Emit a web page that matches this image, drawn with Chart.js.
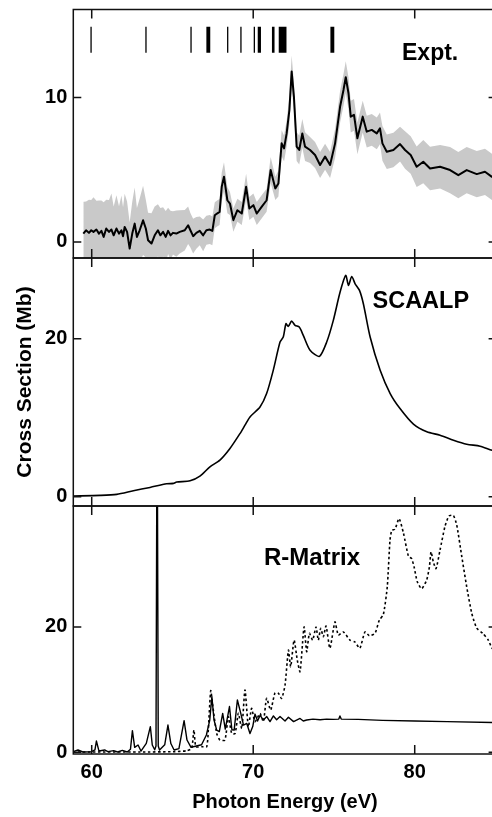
<!DOCTYPE html>
<html>
<head>
<meta charset="utf-8">
<script src="https://cdn.jsdelivr.net/npm/chart.js@4.4.0/dist/chart.umd.min.js"></script>
<style>
html, body { margin: 0; padding: 0; background: #fff; overflow: hidden; }
#wrap { position: relative; width: 492px; height: 817px; overflow: hidden; }
canvas { position: absolute; left: 0; }
</style>
</head>
<body>
<div id="wrap">
  <canvas id="p1" width="500" height="262" style="top:0px"></canvas>
  <canvas id="p2" width="500" height="256" style="top:254px"></canvas>
  <canvas id="p3" width="500" height="315" style="top:502px"></canvas>
</div>
<script>
// x axis (photon energy, eV)
const xMin = 58.86, xMax = 85.07;
const xTicks = [60, 70, 80];

// Expt. panel
const exptE = [59.48,59.52,59.65,59.83,59.97,60.11,60.29,60.45,60.60,60.74,60.90,61.07,61.22,61.36,61.53,61.69,61.84,61.94,
  62.04,62.19,62.35,62.51,62.66,62.80,62.97,63.18,63.35,63.49,63.70,63.90,64.10,64.25,64.42,64.58,64.73,64.88,65.03,65.24,
  65.45,65.76,65.97,66.11,66.28,66.48,66.69,66.90,67.10,67.31,67.47,67.62,67.76,67.92,
  68.05,68.19,68.40,68.56,68.77,69.02,69.29,69.56,69.76,70.01,70.22,70.52,70.83,71.08,71.37,71.56,71.76,71.91,72.07,72.24,
  72.38,72.52,
  72.69,72.85,73.04,73.21,73.52,73.83,74.14,74.45,
  74.76,75.07,75.38,75.59,75.73,75.90,76.04,76.24,76.45,
  76.78,77.03,77.34,77.65,77.85,78.00,78.27,78.68,79.09,
  79.40,79.75,80.12,80.53,80.95,81.57,82.19,82.70,83.22,83.84,84.35,84.78,85.1];
const exptV = [0.58,0.58,0.81,0.63,0.81,0.70,0.86,0.58,0.77,0.35,0.93,0.70,0.86,0.46,0.93,0.58,0.81,0.40,
  1.04,0.70,-0.46,0.58,1.27,0.35,0.81,1.50,0.93,0.12,-0.11,0.46,0.81,0.46,0.70,0.35,0.77,0.46,0.63,0.58,
  0.70,0.81,1.16,0.81,0.40,0.63,0.77,0.46,0.81,0.86,0.77,1.85,1.97,2.08,
  3.82,4.52,2.89,2.66,1.51,2.20,1.97,3.82,2.32,2.55,1.97,2.43,2.89,4.98,3.71,4.05,6.83,6.48,7.52,9.14,
  11.81,10.07,
  6.60,6.37,7.52,6.60,6.37,6.02,5.33,5.91,
  5.33,6.83,9.38,10.53,11.41,10.30,8.68,8.80,7.18,
  8.68,7.64,7.76,7.52,7.87,6.83,6.25,6.37,6.78,
  6.37,6.02,5.21,5.56,5.09,5.21,4.98,4.63,4.98,4.70,4.86,4.51,4.5];
const exptErr = [2.2,2.2,2.0,2.3,2.1,2.4,2.0,2.3,2.1,2.4,2.0,2.2,2.5,2.0,2.3,1.9,2.4,2.0,
  2.3,2.1,1.8,2.2,2.5,2.0,2.2,2.4,2.0,1.9,2.1,2.0,1.8,1.9,1.7,1.8,1.6,1.7,1.5,1.6,
  1.5,1.4,1.3,1.2,1.2,1.1,1.0,1.1,1.0,1.0,1.0,0.9,0.9,0.9,
  1.0,1.0,0.9,0.8,0.8,0.8,0.8,0.9,0.8,0.8,0.8,0.8,0.8,0.9,0.8,0.9,0.9,0.9,0.9,1.0,
  1.1,1.0,
  1.0,1.0,1.0,1.0,0.9,0.9,0.9,0.9,
  0.9,1.0,1.1,1.1,1.1,1.1,1.1,1.1,1.1,
  1.1,1.1,1.1,1.1,1.1,1.2,1.2,1.2,1.2,
  1.3,1.3,1.4,1.5,1.5,1.5,1.6,1.6,1.6,1.6,1.6,1.6,1.6];
// resonance positions marked at the top of the Expt. panel
const markE = [59.96,63.36,66.15,67.14,67.22,67.30,68.42,69.24,70.07,70.32,70.38,70.44,71.20,71.28,
  71.62,71.70,71.78,71.86,71.94,72.02,74.82,74.90,74.98];
const markLo = 13.1, markHi = 14.9;

// SCAALP panel
const scaalpE = [58.87,60.52,61.55,62.58,63.61,64.64,65.06,65.26,66.09,66.70,67.32,67.94,68.56,69.18,69.49,69.80,70.42,70.83,
  71.24,71.66,71.86,72.03,72.17,72.38,72.59,72.85,73.10,73.52,74.10,74.55,74.96,75.38,75.73,75.90,76.10,76.31,76.58,76.82,
  77.24,77.86,78.48,79.09,79.92,80.75,81.57,82.40,83.22,84.05,84.79,85.1];
const scaalpV = [0.09,0.17,0.30,0.76,1.18,1.64,1.69,1.86,2.02,2.61,3.79,4.63,6.10,7.99,9.05,10.10,11.36,13.05,
  15.99,19.57,20.20,21.89,21.55,22.22,21.68,21.46,20.41,18.52,17.76,19.57,22.31,25.89,27.99,26.73,27.86,26.94,26.10,24.41,
  20.20,15.99,13.05,11.15,9.18,8.21,7.79,7.16,6.65,6.40,5.89,5.8];

// R-Matrix panel, solid curve
const rmE = [58.84,59.15,59.45,59.98,60.20,60.29,60.45,60.80,61.00,61.36,61.60,61.90,62.20,62.40,62.52,62.66,62.87,63.05,
  63.38,63.63,63.75,63.90,63.98,64.05,64.12,64.20,64.52,64.72,64.90,65.10,65.40,65.72,65.90,66.15,66.48,66.80,67.10,67.31,
  67.44,67.57,67.74,67.90,68.11,68.27,68.53,68.68,68.82,69.02,69.23,69.40,69.60,69.80,69.97,70.11,70.27,70.43,70.63,70.84,
  71.04,71.25,71.45,71.66,71.97,72.18,72.50,72.90,73.10,73.31,73.70,74.14,74.55,74.96,75.30,75.37,75.45,76.50,78.00,80.00,
  82.00,84.80,85.1];
const rmV = [0.10,0.37,0.05,0.10,0.40,1.80,0.20,0.37,0.10,0.26,0.05,0.30,0.05,0.50,3.45,0.79,1.16,0.20,
  1.43,4.09,1.16,0.40,1.00,60.0,1.00,0.37,1.20,4.35,1.40,0.37,0.60,5.04,1.96,0.80,1.00,1.20,2.76,5.15,
  8.90,5.20,3.55,3.30,6.20,3.70,7.30,3.60,3.55,8.35,6.20,4.35,4.60,3.00,4.10,6.10,5.00,5.90,5.15,5.70,
  4.90,5.80,5.20,5.70,5.00,5.60,4.90,5.40,5.00,5.15,5.30,5.20,5.30,5.25,5.30,5.80,5.30,5.25,5.10,5.00,
  4.90,4.75,4.74];

// R-Matrix panel, dotted curve
const rmDotE = [58.84,63.00,65.05,65.88,66.19,66.33,66.45,66.81,67.12,67.22,67.37,67.50,67.74,67.94,68.25,68.46,68.67,68.88,
  69.08,69.29,69.49,69.70,69.90,70.11,70.42,70.63,70.83,71.08,71.35,71.56,71.76,71.97,72.18,72.32,72.53,72.73,72.90,73.15,
  73.31,73.48,73.68,73.89,74.03,74.18,74.34,74.51,74.75,75.06,75.27,75.58,75.99,76.30,76.60,76.92,77.19,77.54,77.81,78.06,
  78.30,78.47,78.58,78.78,79.03,79.30,79.61,79.81,79.96,80.16,80.43,80.74,80.91,81.01,81.15,81.32,81.57,81.87,82.12,82.39,
  82.60,82.91,83.22,83.53,83.84,84.21,84.56,84.79,85.1];
const rmDotV = [0.05,0.05,0.10,0.26,0.63,3.56,0.90,0.90,0.90,3.56,9.83,7.30,3.00,1.96,1.96,5.68,3.00,3.00,
  6.20,3.80,9.94,4.10,7.00,4.90,6.20,4.90,8.60,6.75,9.50,9.40,8.60,10.70,16.30,13.65,17.90,14.70,12.86,20.00,
  16.05,18.98,17.90,20.00,17.90,19.78,18.45,20.15,16.60,20.80,18.70,19.20,17.90,17.60,16.60,19.20,18.60,19.00,21.10,22.00,
  26.40,33.90,35.40,35.60,37.30,35.00,31.30,30.90,29.60,27.20,26.10,27.50,29.60,32.00,30.40,29.30,32.30,36.00,37.70,37.80,
  36.30,31.30,26.40,22.20,19.80,19.00,17.90,16.60,16.0];

const y1Ticks = [0, 10], y2Ticks = [0, 20], y3Ticks = [0, 20];

const FONT = '"Liberation Sans", Arial, Helvetica, sans-serif';
Chart.defaults.font.family = FONT;
Chart.defaults.color = '#000';

const pts = (xs, ys) => xs.map((x, i) => ({x: x, y: ys[i]}));

const framePlugin = {
  id: 'frame',
  afterDatasetsDraw(chart, args, opts) {
    const {ctx, chartArea: a} = chart;
    const x = chart.scales.x, y = chart.scales.y;
    ctx.save();
    ctx.strokeStyle = '#111';
    ctx.lineWidth = 1.5;
    ctx.strokeRect(a.left, a.top, a.right - a.left, a.bottom - a.top);
    ctx.beginPath();
    xTicks.forEach(v => {
      const px = x.getPixelForValue(v);
      ctx.moveTo(px, a.top); ctx.lineTo(px, a.top + 9);
      ctx.moveTo(px, a.bottom); ctx.lineTo(px, a.bottom - 9);
    });
    opts.yTicks.forEach(v => {
      const py = y.getPixelForValue(v);
      ctx.moveTo(a.left, py); ctx.lineTo(a.left + 8, py);
      ctx.moveTo(a.right, py); ctx.lineTo(a.right - 8, py);
    });
    ctx.stroke();
    ctx.fillStyle = '#000';
    ctx.font = 'bold ' + opts.size + 'px ' + FONT;
    ctx.textBaseline = 'alphabetic';
    ctx.fillText(opts.label, opts.lx, opts.ly);
    ctx.restore();
  }
};

function panel(id, datasets, yMin, yMax, yTicks, cfg) {
  return new Chart(document.getElementById(id), {
    type: 'line',
    data: { datasets: datasets },
    options: {
      responsive: false,
      animation: false,
      layout: { padding: { top: cfg.padTop, bottom: cfg.padBottom, left: 0, right: 3.4 } },
      elements: { point: { radius: 0 }, line: { tension: 0, borderJoinStyle: 'round' } },
      plugins: {
        legend: { display: false },
        tooltip: { enabled: false },
        frame: { yTicks: yTicks, label: cfg.label, lx: cfg.lx, ly: cfg.ly, size: cfg.size }
      },
      scales: {
        x: {
          type: 'linear', min: xMin, max: xMax,
          grid: { display: false, drawTicks: false },
          border: { display: false },
          afterBuildTicks: s => { s.ticks = xTicks.map(v => ({ value: v })); },
          afterFit: s => { s.height = cfg.xHeight; s.paddingLeft = 0; s.paddingRight = 0; },
          ticks: { display: cfg.showX, padding: 6, font: { size: 20, weight: 'bold' } },
          title: { display: cfg.showX, text: 'Photon Energy (eV)', font: { size: 20, weight: 'bold' },
                   padding: { top: 0, bottom: 3 } }
        },
        y: {
          min: yMin, max: yMax,
          grid: { display: false, drawTicks: false },
          border: { display: false },
          afterBuildTicks: s => { s.ticks = yTicks.map(v => ({ value: v })); },
          afterFit: s => { s.width = 73.3; s.paddingTop = 0; s.paddingBottom = 0; },
          ticks: { padding: 6, font: { size: 20, weight: 'bold' } },
          title: { display: !!cfg.yTitle, text: cfg.yTitle || '', font: { size: 21, weight: 'bold' },
                   padding: { top: 13, bottom: 0 } }
        }
      }
    },
    plugins: [framePlugin]
  });
}

// panel 1: experiment with error band and resonance markers
const markers = markE.flatMap(x => [{x: x, y: markLo}, {x: x, y: markHi}, {x: x, y: null}]);
panel('p1', [
  { data: pts(exptE, exptV), borderColor: '#000', borderWidth: 2 },
  { data: markers, borderColor: '#000', borderWidth: 1.3, spanGaps: false },
  { data: pts(exptE, exptV.map((v, i) => v + exptErr[i])), borderWidth: 0, borderColor: 'rgba(0,0,0,0)' },
  { data: pts(exptE, exptV.map((v, i) => v - exptErr[i])), borderWidth: 0, borderColor: 'rgba(0,0,0,0)',
    fill: '-1', backgroundColor: '#c9c9c9' }
], -1.11, 16.1, y1Ticks, { padTop: 9.5, padBottom: 4, xHeight: 0, showX: false,
  label: 'Expt.', lx: 402, ly: 60, size: 23 });

// panel 2: SCAALP
panel('p2', [
  { data: pts(scaalpE, scaalpV), borderColor: '#000', borderWidth: 1.6, tension: 0.25 }
], -1.17, 30.2, y2Ticks, { padTop: 4, padBottom: 4, xHeight: 0, showX: false,
  yTitle: 'Cross Section (Mb)', label: 'SCAALP', lx: 372.5, ly: 54, size: 23.5 });

// panel 3: R-Matrix
panel('p3', [
  { data: pts(rmE, rmV), borderColor: '#000', borderWidth: 1.4 },
  { data: pts(rmDotE, rmDotV), borderColor: '#000', borderWidth: 1.6, borderDash: [2.5, 2.5], tension: 0.2 }
], -0.27, 39.3, y3Ticks, { padTop: 4, padBottom: 0, xHeight: 63, showX: true,
  label: 'R-Matrix', lx: 264, ly: 63, size: 24 });
</script>
</body>
</html>
